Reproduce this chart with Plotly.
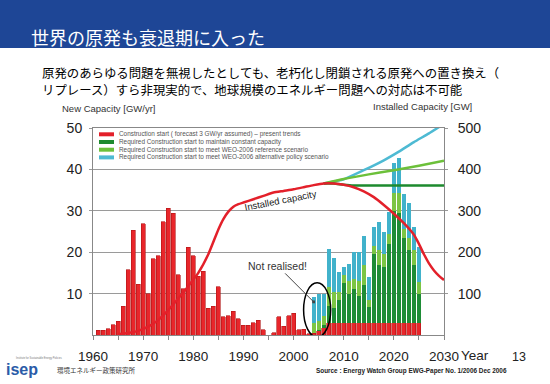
import plotly.graph_objects as go

# ---------------- data ----------------
years_hist = list(range(1961, 2004))
red_hist = [1.2, 1.2, 1.5, 2.5, 3.3, 7.0, 15.8, 25.3, 12.3, 26.9,
            10.0, 18.4, 19.2, 27.3, 30.6, 29.4, 14.5, 11.2, 21.2, 19.2,
            14.2, 15.4, 6.5, 7.0, 11.7, 4.4, 4.7, 5.7, 3.9, 2.3,
            2.3, 3.0, 3.6, 1.3, 0.0, 0.6, 4.4, 2.1, 4.6, 5.2,
            1.3, 1.4, 0.3]

years_fc = list(range(2004, 2026))
red_fc = [0.4, 1.0, 1.8] + [3.0] * 19
# top of dark-green, light-green and teal stacks (GW/yr)
dg_top = [0.4, 1.3, 2.4, 7.0, 6.5, 8.5, 12.5, 10.0, 11.0, 9.5, 12.0, 6.8,
          19.5, 17.0, 16.5, 22.0, 30.0, 29.5, 23.5, 20.5, 17.0, 10.0]
lg_top = [3.0, 3.4, 4.6, 11.5, 10.5, 10.5, 14.5, 13.0, 13.5, 13.0, 17.0, 8.5,
          21.5, 20.5, 19.5, 24.5, 34.3, 34.3, 25.5, 23.5, 20.5, 12.9]
tot_top = [9.3, 9.8, 9.8, 20.7, 18.7, 15.3, 16.5, 17.1, 20.0, 20.0, 23.9, 14.0,
           26.2, 27.4, 25.0, 29.8, 41.6, 42.8, 34.0, 31.8, 26.2, 21.3]

# installed capacity (GW)
inst_years = [1965, 1967, 1969, 1971, 1973, 1975, 1977, 1979, 1981, 1983, 1985,
              1986, 1987, 1988, 1989, 1990, 1992, 1994, 1996, 1998, 2000, 2002,
              2004, 2006, 2008, 2010, 2012, 2014, 2016, 2018, 2020, 2022, 2024,
              2025, 2026, 2027, 2028, 2029, 2030]
inst_red = [2, 5, 10, 20, 36, 60, 88, 118, 150, 195, 255,
            280, 298, 310, 316, 320, 328, 336, 344, 348, 352, 357,
            362, 366, 366, 363, 357, 347, 333, 314, 293, 270, 242,
            220, 195, 173, 156, 143, 133]
const_years = [2006, 2008, 2010, 2012, 2016, 2020, 2025, 2030]
inst_const = [366, 366, 363, 361, 361, 361, 361, 361]
ref_years = [2006, 2010, 2015, 2020, 2025, 2030]
inst_ref = [366, 377, 388, 398, 409, 421]
alt_years = [2006, 2010, 2014, 2018, 2021, 2024, 2027, 2030]
inst_alt = [366, 376, 398, 422, 443, 466, 487, 510]

legend_labels = [
    "Construction start ( forecast 3 GW/yr assumed) \u2013 present trends",
    "Required Construction start to maintain constant capacity",
    "Required Construction start to meet WEO-2006 reference scenario",
    "Required Construction start to meet WEO-2006 alternative policy scenario",
]
left_ticks = [10, 20, 30, 40, 50]
right_ticks = [100, 200, 300, 400, 500]
year_ticks = [1960, 1970, 1980, 1990, 2000, 2010, 2020, 2030]

# ---------------- styles ----------------
RED, DG, LG, TEAL = "#E8262B", "#1E8C36", "#7CC544", "#41B2CB"
LRED, LDG, LLG, LTEAL = "#E3202A", "#1D8A2E", "#6CC03A", "#4EBAD3"
LAT = "Liberation Sans, Arial, sans-serif"
JP = "Noto Sans CJK JP, sans-serif"

W, H = 550, 384
L, R, T, B = 93, 444, 128, 335


def px(x):
    return (x - L) / (R - L)


def py(y):
    return (B - y) / (B - T)


dg_seg = [d - r for d, r in zip(dg_top, red_fc)]
lg_seg = [l - d for l, d in zip(lg_top, dg_top)]
tl_seg = [t - l for t, l in zip(tot_top, lg_top)]

fig = go.Figure()
fig.add_trace(go.Bar(x=years_hist + years_fc, y=red_hist + red_fc,
                     marker=dict(color=RED, line=dict(color="#B01515", width=0.6)),
                     showlegend=False))
fig.add_trace(go.Bar(x=years_fc, y=dg_seg, marker=dict(color=DG, line=dict(width=0)),
                     showlegend=False))
fig.add_trace(go.Bar(x=years_fc, y=lg_seg, marker=dict(color=LG, line=dict(width=0)),
                     showlegend=False))
fig.add_trace(go.Bar(x=years_fc, y=tl_seg, marker=dict(color=TEAL, line=dict(width=0)),
                     showlegend=False))

for xs, ys, c in [(alt_years, inst_alt, LTEAL), (ref_years, inst_ref, LLG),
                  (const_years, inst_const, LDG), (inst_years, inst_red, LRED)]:
    fig.add_trace(go.Scatter(x=xs, y=ys, yaxis="y2", mode="lines",
                             line=dict(color=c, width=2.5, shape="spline", smoothing=0.5),
                             showlegend=False, cliponaxis=True))

shapes = []
annotations = []

# title bar
shapes.append(dict(type="rect", xref="paper", yref="paper", x0=px(0), x1=px(W),
                   y0=py(48), y1=py(0), fillcolor="#1E4696", line=dict(width=0),
                   layer="below"))
annotations.append(dict(text="世界の原発も衰退期に入った", x=px(29), y=py(37),
                        xref="paper", yref="paper", xanchor="left", yanchor="middle",
                        showarrow=False, font=dict(family=JP, size=18, color="white")))
annotations.append(dict(text="原発のあらゆる問題を無視したとしても、老朽化し閉鎖される原発への置き換え（",
                        x=px(40), y=py(73), xref="paper", yref="paper", xanchor="left",
                        yanchor="middle", showarrow=False,
                        font=dict(family=JP, size=12.4, color="black")))
annotations.append(dict(text="リプレース）すら非現実的で、地球規模のエネルギー問題への対応は不可能",
                        x=px(40), y=py(90), xref="paper", yref="paper", xanchor="left",
                        yanchor="middle", showarrow=False,
                        font=dict(family=JP, size=12.4, color="black")))

# axis titles
annotations.append(dict(text="New Capacity [GW/yr]", x=px(60), y=py(108), xref="paper",
                        yref="paper", xanchor="left", yanchor="middle", showarrow=False,
                        font=dict(family=LAT, size=9.5, color="#333")))
annotations.append(dict(text="Installed Capacity [GW]", x=px(371), y=py(106), xref="paper",
                        yref="paper", xanchor="left", yanchor="middle", showarrow=False,
                        font=dict(family=LAT, size=9.5, color="#333")))
annotations.append(dict(text="Year", x=px(459), y=py(355), xref="paper", yref="paper",
                        xanchor="left", yanchor="middle", showarrow=False,
                        font=dict(family=LAT, size=13.5, color="#222")))

# legend
for i, (lab, c) in enumerate(zip(legend_labels, [LRED, LDG, LLG, LTEAL])):
    yy = 134.3 + i * 7.7
    shapes.append(dict(type="line", xref="paper", yref="paper", x0=px(99), x1=px(114),
                       y0=py(yy), y1=py(yy), line=dict(color=c, width=4)))
    annotations.append(dict(text=lab, x=px(117), y=py(yy), xref="paper", yref="paper",
                            xanchor="left", yanchor="middle", showarrow=False,
                            font=dict(family=LAT, size=6.4, color="#555")))

# ellipse + not realised
shapes.append(dict(type="circle", xref="x", yref="y", x0=2002.0, x1=2007.4,
                   y0=-0.5, y1=12.6, line=dict(color="black", width=1.5)))
annotations.append(dict(text="Not realised!", x=2004.0, y=8.0, xref="x", yref="y",
                        ax=-36, ay=-36, showarrow=True, arrowhead=7, arrowsize=0.7,
                        arrowwidth=1, arrowcolor="#444",
                        font=dict(family=LAT, size=10.5, color="#333")))
annotations.append(dict(text="Installed capacity", x=px(280), y=py(186), xref="paper",
                        yref="paper", showarrow=False, textangle=-11,
                        font=dict(family=LAT, size=9.5, color="#222")))

# footer
annotations.append(dict(text="<b>isep</b>", x=px(4), y=py(369), xref="paper", yref="paper",
                        xanchor="left", yanchor="middle", showarrow=False,
                        font=dict(family=LAT, size=16, color="#2B5CA8")))
annotations.append(dict(text="Institute for Sustainable Energy Policies", x=px(14), y=py(358),
                        xref="paper", yref="paper", xanchor="left", yanchor="middle",
                        showarrow=False, font=dict(family=LAT, size=2.6, color="#777")))
annotations.append(dict(text="環境エネルギー政策研究所", x=px(55), y=py(370), xref="paper",
                        yref="paper", xanchor="left", yanchor="middle", showarrow=False,
                        font=dict(family=JP, size=6.5, color="#333")))
annotations.append(dict(text="<b>Source : Energy Watch Group EWG-Paper No. 1/2006 Dec 2006</b>",
                        x=px(314), y=py(371), xref="paper", yref="paper", xanchor="left",
                        yanchor="middle", showarrow=False,
                        font=dict(family=LAT, size=6.4, color="#222")))
annotations.append(dict(text="13", x=px(519), y=py(357), xref="paper", yref="paper",
                        xanchor="center", yanchor="middle", showarrow=False,
                        font=dict(family=LAT, size=12.5, color="#222")))

fig.update_layout(
    width=W, height=H, autosize=False,
    margin=dict(l=L, r=W - R, t=T, b=H - B, pad=0),
    paper_bgcolor="white", plot_bgcolor="white",
    barmode="stack", bargap=0.2,
    showlegend=False,
    xaxis=dict(range=[1960, 2030], tickvals=year_ticks, ticks="outside", ticklen=4,
               tickcolor="#888", showgrid=False, zeroline=False,
               showline=True, linecolor="#888", linewidth=1, mirror=True,
               minor=dict(dtick=5, ticks="outside", ticklen=4, tickcolor="#888"),
               tickfont=dict(family=LAT, size=13.5, color="#222"),
               ticklabelstandoff=5),
    yaxis=dict(range=[0, 50], tickvals=left_ticks, ticks="outside", ticklen=3,
               tickcolor="#999", showgrid=True, gridcolor="#9a9a9a", gridwidth=1,
               zeroline=False, showline=True, linecolor="#888", linewidth=1,
               tickfont=dict(family=LAT, size=14, color="#222"), ticklabelstandoff=4),
    yaxis2=dict(range=[0, 500], tickvals=right_ticks, overlaying="y", side="right",
                ticks="outside", ticklen=3, tickcolor="#999", showgrid=False,
                zeroline=False, showline=True, linecolor="#888", linewidth=1,
                tickfont=dict(family=LAT, size=14, color="#222"), ticklabelstandoff=7),
    shapes=shapes,
    annotations=annotations,
)

fig.write_html("out.html", config={"displayModeBar": False},
               post_script="document.body.style.margin='0px';"
                           "document.body.style.overflow='hidden';")
